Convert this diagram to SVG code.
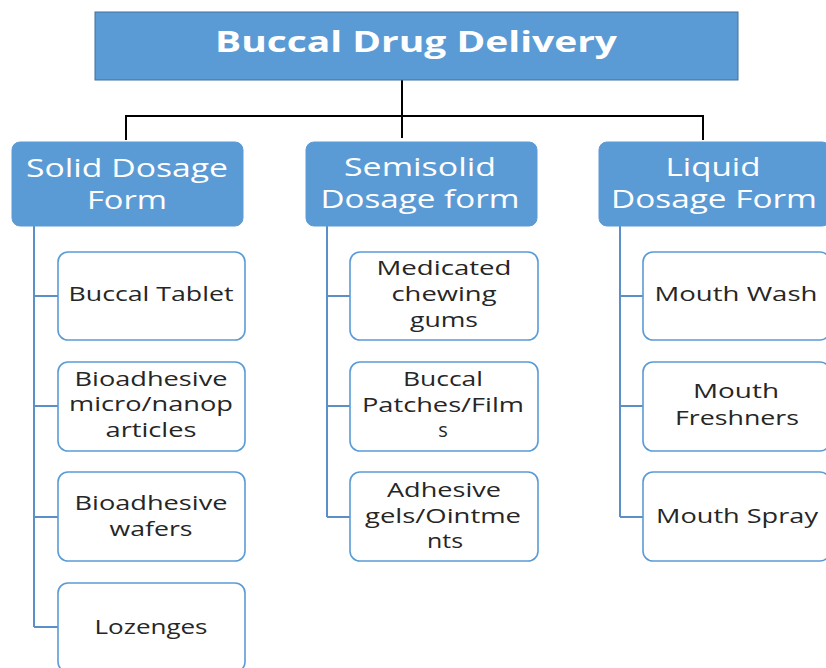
<svg xmlns="http://www.w3.org/2000/svg" width="826" height="668" viewBox="0 0 826 668">
<style>
.bg{fill:#ffffff}
.title{fill:#5B9BD5;stroke:#41719C;stroke-width:1}
.cat{fill:#5B9BD5;stroke:#5B9BD5;stroke-width:1}
.item{fill:#ffffff;stroke:#5B9BD5;stroke-width:1.6}
.tt{font-family:"Open Sans","Liberation Sans",sans-serif;font-weight:bold;font-size:28px;fill:#ffffff;text-anchor:middle}
.ct{font-family:"Open Sans","Liberation Sans",sans-serif;font-size:25px;fill:#ffffff;text-anchor:middle}
.it{font-family:"Open Sans","Liberation Sans",sans-serif;font-size:20px;fill:#262626;text-anchor:middle}
.blk{fill:none;stroke:#000000;stroke-width:2}
.blu{fill:none;stroke:#5A8FC8;stroke-width:2}
</style>
<rect class="bg" x="0" y="0" width="826" height="668"/>
<g id="connectors">
<path class="blk" d="M402 80 V138 M126 140 V116 H703 V140"/>
<path class="blu" d="M34 226 V627 M34 296 H58 M34 406 H58 M34 517 H58 M34 627 H58"/>
<path class="blu" d="M327 226 V517 M327 296 H350 M327 406 H350 M327 517 H350"/>
<path class="blu" d="M620 226 V517 M620 296 H643 M620 406 H643 M620 517 H643"/>
</g>
<g id="root">
<rect class="title" x="95" y="12" width="643" height="68"/>
<text class="tt" x="416" y="52" textLength="402" lengthAdjust="spacingAndGlyphs">Buccal Drug Delivery</text>
</g>
<g id="solid">
<rect class="cat" x="12" y="142" width="231" height="84" rx="8"/>
<text class="ct" x="127" y="177" textLength="202" lengthAdjust="spacingAndGlyphs">Solid Dosage</text>
<text class="ct" x="127" y="209" textLength="80" lengthAdjust="spacingAndGlyphs">Form</text>
</g>
<g id="semisolid">
<rect class="cat" x="306" y="142" width="231" height="84" rx="8"/>
<text class="ct" x="420" y="176" textLength="152" lengthAdjust="spacingAndGlyphs">Semisolid</text>
<text class="ct" x="420" y="208" textLength="199" lengthAdjust="spacingAndGlyphs">Dosage form</text>
</g>
<g id="liquid">
<rect class="cat" x="599" y="142" width="231" height="84" rx="8"/>
<text class="ct" x="713" y="176" textLength="95" lengthAdjust="spacingAndGlyphs">Liquid</text>
<text class="ct" x="714" y="208" textLength="206" lengthAdjust="spacingAndGlyphs">Dosage Form</text>
</g>
<g id="buccal-tablet">
<rect class="item" x="58" y="252" width="187" height="88" rx="10"/>
<text class="it" x="151" y="301" textLength="165" lengthAdjust="spacingAndGlyphs">Buccal Tablet</text>
</g>
<g id="bioadhesive-particles">
<rect class="item" x="58" y="362" width="187" height="89" rx="10"/>
<text class="it" x="151" y="386" textLength="153" lengthAdjust="spacingAndGlyphs">Bioadhesive</text>
<text class="it" x="151" y="411" textLength="164" lengthAdjust="spacingAndGlyphs">micro/nanop</text>
<text class="it" x="151" y="437" textLength="91" lengthAdjust="spacingAndGlyphs">articles</text>
</g>
<g id="bioadhesive-wafers">
<rect class="item" x="58" y="472" width="187" height="89" rx="10"/>
<text class="it" x="151" y="510" textLength="153" lengthAdjust="spacingAndGlyphs">Bioadhesive</text>
<text class="it" x="151" y="536" textLength="83" lengthAdjust="spacingAndGlyphs">wafers</text>
</g>
<g id="lozenges">
<rect class="item" x="58" y="583" width="187" height="89" rx="10"/>
<text class="it" x="151" y="634" textLength="113" lengthAdjust="spacingAndGlyphs">Lozenges</text>
</g>
<g id="chewing-gums">
<rect class="item" x="350" y="252" width="188" height="88" rx="10"/>
<text class="it" x="444" y="275" textLength="135" lengthAdjust="spacingAndGlyphs">Medicated</text>
<text class="it" x="444" y="301" textLength="105" lengthAdjust="spacingAndGlyphs">chewing</text>
<text class="it" x="444" y="327" textLength="68" lengthAdjust="spacingAndGlyphs">gums</text>
</g>
<g id="patches-films">
<rect class="item" x="350" y="362" width="188" height="89" rx="10"/>
<text class="it" x="443" y="386" textLength="80" lengthAdjust="spacingAndGlyphs">Buccal</text>
<text class="it" x="443" y="412" textLength="162" lengthAdjust="spacingAndGlyphs">Patches/Film</text>
<text class="it" x="443" y="437">s</text>
</g>
<g id="gels-ointments">
<rect class="item" x="350" y="472" width="188" height="89" rx="10"/>
<text class="it" x="444" y="497" textLength="114" lengthAdjust="spacingAndGlyphs">Adhesive</text>
<text class="it" x="443" y="523" textLength="156" lengthAdjust="spacingAndGlyphs">gels/Ointme</text>
<text class="it" x="445" y="548" textLength="36" lengthAdjust="spacingAndGlyphs">nts</text>
</g>
<g id="mouth-wash">
<rect class="item" x="643" y="252" width="187" height="88" rx="10"/>
<text class="it" x="736" y="301" textLength="163" lengthAdjust="spacingAndGlyphs">Mouth Wash</text>
</g>
<g id="mouth-freshners">
<rect class="item" x="643" y="362" width="187" height="89" rx="10"/>
<text class="it" x="736" y="398" textLength="86" lengthAdjust="spacingAndGlyphs">Mouth</text>
<text class="it" x="737" y="425" textLength="124" lengthAdjust="spacingAndGlyphs">Freshners</text>
</g>
<g id="mouth-spray">
<rect class="item" x="643" y="472" width="187" height="89" rx="10"/>
<text class="it" x="737" y="523" textLength="162" lengthAdjust="spacingAndGlyphs">Mouth Spray</text>
</g>
</svg>
